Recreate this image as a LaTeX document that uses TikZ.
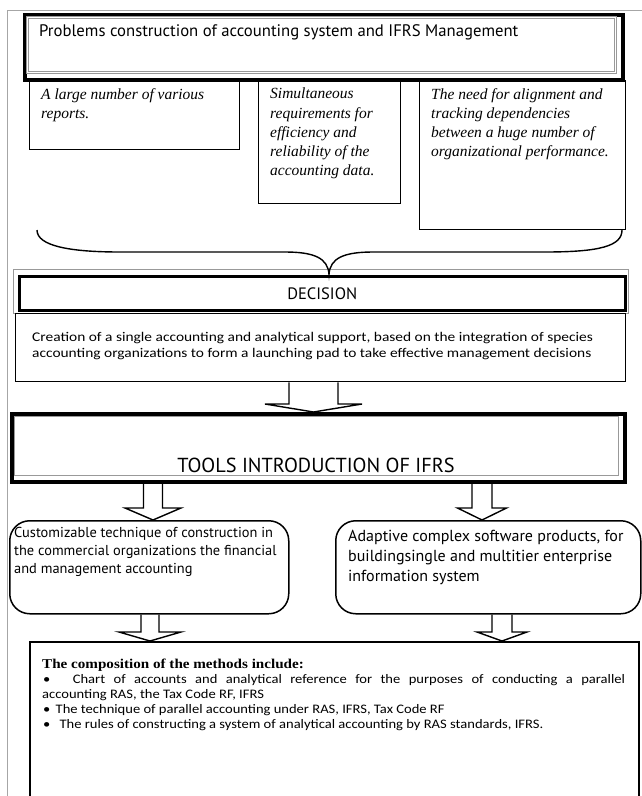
\documentclass[tikz,border=0pt]{standalone}
\usepackage{fontspec}
\usepackage{graphicx}
\setmainfont{Liberation Serif}
\newfontfamily\myr{PT Sans}
\newfontfamily\calibri{Carlito}
\usetikzlibrary{calc}
\begin{document}
\begin{tikzpicture}[x=1pt,y=-1pt,
  frameline/.style={draw=gray!70,line width=0.8pt},
  thickbox/.style={draw=black,line width=4.5pt,inner sep=0pt,anchor=north west},
  grayline/.style={draw=gray!80,line width=0.7pt},
  plainbox/.style={draw=black,line width=1.4pt,inner sep=0pt,anchor=north west},
  roundbox/.style={draw=black,line width=1.5pt,rounded corners=20pt,inner sep=0pt,anchor=north west},
  blockarrow/.style={draw=black,line width=1.4pt,line join=miter},
  txt/.style={inner sep=0pt,anchor=north west,align=left},
  ltxt/.style={inner sep=0pt,anchor=west}]
\useasboundingbox (0,0) rectangle (642,796);
\fill[white] (0,0) rectangle (642,796);
% frame
\draw[frameline] (7,796) -- (7,10) -- (642,10);

% three italic boxes
\node[plainbox,minimum width=210pt,minimum height=69pt] (b1) at (29,80) {};
\node[plainbox,minimum width=142pt,minimum height=123pt] (b2) at (258,80) {};
\node[plainbox,minimum width=206pt,minimum height=149pt] (b3) at (419,80) {};

% top box
\node[thickbox,minimum width=598pt,minimum height=65pt] (topbox) at (22.5,12.5) {};
\draw[grayline] (26.5,16.5) rectangle (616.5,73.5);
\draw[grayline] (28.5,18.5) rectangle (614.5,71.5);
\node[ltxt,font=\myr\fontsize{16.7}{19}\selectfont] (ttl) at (39,32) {Problems construction of accounting system and IFRS Management};

\node[txt,font=\itshape\fontsize{15.5}{19.2}\selectfont] (t1) at (41,88) {A large number of various\\reports.};
\node[txt,font=\itshape\fontsize{15.5}{19.2}\selectfont] (t2) at (270,88) {Simultaneous\\requirements for\\efficiency and\\reliability of the\\accounting data.};
\node[txt,font=\itshape\fontsize{15.5}{19.2}\selectfont] (t3) at (431,88) {The need for alignment and\\tracking dependencies\\between a huge number of\\organizational performance.};

% decision
\draw[draw=gray!80,line width=1pt] (13,269) rectangle (628,313);
\node[draw=black,line width=3.5pt,inner sep=0pt,anchor=north west,minimum width=606pt,minimum height=34pt] (decbox) at (17.5,274.5) {};
\node[font=\myr\fontsize{16.5}{19}\selectfont,inner sep=0pt] (dec) at (decbox.center) {DECISION};

% brace
\coordinate (bl) at (37,230);
\coordinate (br) at (622,230);
\draw[line width=1.4pt] (bl) .. controls (37,246) and (70,252) .. (120,252) -- (285,252)
  .. controls (314,252) and (328,258) .. (decbox.north -| 329,0)
  .. controls (330,258) and (344,252) .. (373,252) -- (545,252)
  .. controls (600,252) and (622,246) .. (br);

% creation text box
\node[plainbox,minimum width=610pt,minimum height=68pt] (crbox) at (15,313) {};
\node[txt,font=\calibri\fontsize{13.3}{15.6}\selectfont] (crt) at (32,330.5) {\scalebox{1.16}[1]{\begin{tabular}{@{}l@{}}Creation of a single accounting and analytical support, based on the integration of species\\accounting organizations to form a launching pad to take effective management decisions\end{tabular}}};

% tools box
\node[draw=black,line width=4pt,inner sep=0pt,anchor=north west,minimum width=613pt,minimum height=68pt] (tools) at (10,412) {};
\draw[grayline] (14.5,416.5) rectangle (618.5,475.5);
\node[font=\myr\fontsize{20.3}{24}\selectfont,inner sep=0pt] (tl) at (316,465) {TOOLS INTRODUCTION OF IFRS};

% rounded boxes
\node[roundbox,minimum width=279pt,minimum height=93pt] (lbox) at (9,520) {};
\node[roundbox,minimum width=305pt,minimum height=93pt] (rbox) at (335,520) {};
\node[txt,font=\myr\fontsize{14.4}{18}\selectfont] (lt) at (14,527) {Customizable technique of construction in\\the commercial organizations the financial\\and management accounting};
\node[txt,font=\myr\fontsize{16}{20}\selectfont] (rt) at (348,530) {Adaptive complex software products, for\\buildingsingle and multitier enterprise\\information system};

% bottom box
\node[draw=black,line width=1.6pt,inner sep=0pt,anchor=north west,minimum width=609pt,minimum height=170pt] (bot) at (29,641) {};
\node[ltxt,font=\bfseries\fontsize{13.5}{15}\selectfont] (bh) at (42,665) {\scalebox{1.12}[1]{The composition of the methods include:}};
\node[ltxt,font=\calibri\fontsize{13}{15}\selectfont] (bl1) at (43,680) {\scalebox{1.12}[1]{•\hspace{20pt}\makebox[493pt][s]{Chart of accounts and analytical reference for the purposes of conducting a parallel}}};
\node[ltxt,font=\calibri\fontsize{13}{15}\selectfont] (bl2) at (42,695) {\scalebox{1.12}[1]{accounting RAS, the Tax Code RF, IFRS}};
\node[ltxt,font=\calibri\fontsize{13}{15}\selectfont] (bl3) at (43,710) {\scalebox{1.12}[1]{•\hspace{4.7pt}The technique of parallel accounting under RAS, IFRS, Tax Code RF}};
\node[ltxt,font=\calibri\fontsize{13}{15}\selectfont] (bl4) at (43,725) {\scalebox{1.12}[1]{•\hspace{8.2pt}The rules of constructing a system of analytical accounting by RAS standards, IFRS.}};

% block arrows: #1 from node, #2 to node, #3 x centre, #4 half shaft, #5 half head, #6 head height
\newcommand{\blockarr}[6]{%
  \path (#3,0) coordinate (bx);
  \draw[blockarrow] ($(bx |- #1.south)+(-#4,0)$) -- ($(bx |- #2.north)+(-#4,-#6)$)
    -- ($(bx |- #2.north)+(-#5,-#6)$) -- (bx |- #2.north)
    -- ($(bx |- #2.north)+(#5,-#6)$) -- ($(bx |- #2.north)+(#4,-#6)$)
    -- ($(bx |- #1.south)+(#4,0)$);}
\blockarr{crbox}{tools}{313.5}{24.5}{48.5}{8}
\blockarr{tools}{lbox}{153}{9.5}{28}{12}
\blockarr{tools}{rbox}{482}{10}{24.5}{12}
\blockarr{lbox}{bot}{150}{9}{31}{9}
\blockarr{rbox}{bot}{502}{10}{25}{9}
\end{tikzpicture}
\end{document}
